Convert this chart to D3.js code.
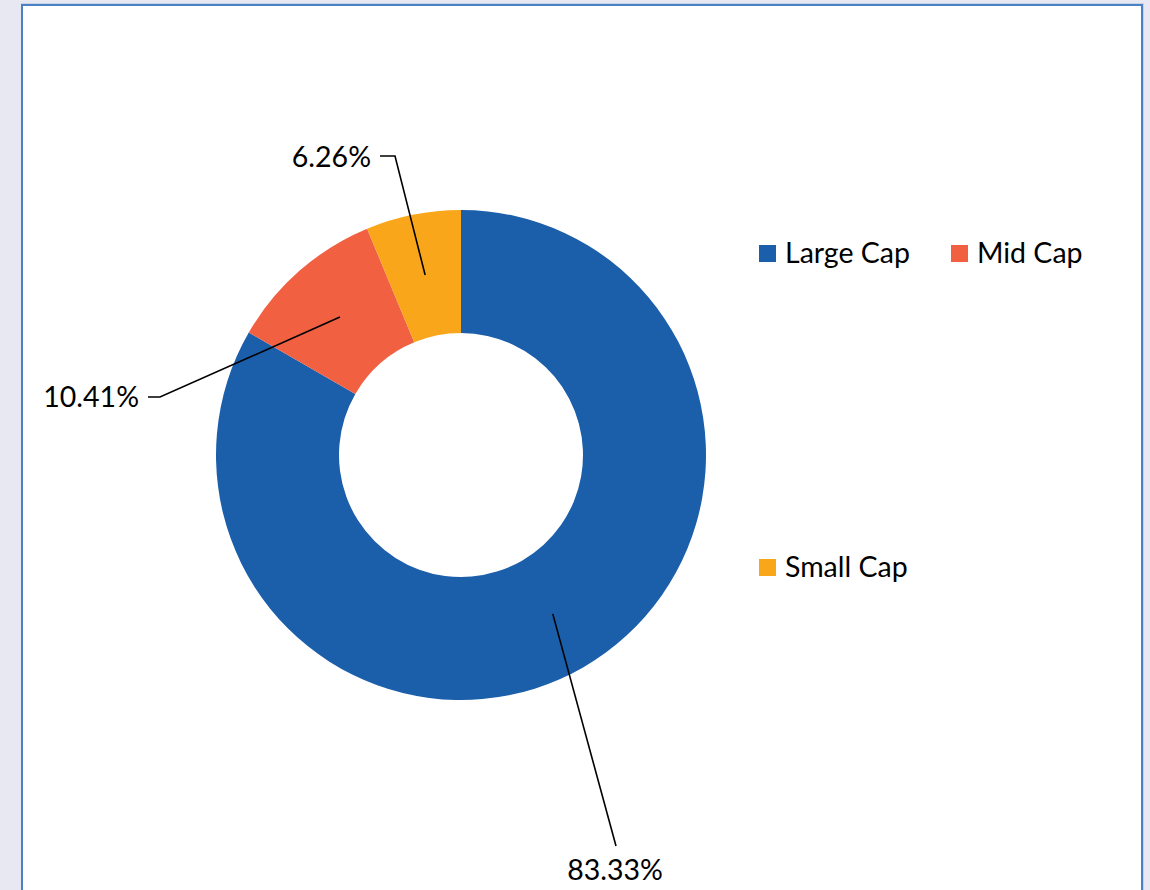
<!DOCTYPE html>
<html><head><meta charset="utf-8">
<script src="https://cdn.jsdelivr.net/npm/d3@7"></script>
<style>html,body{margin:0;padding:0;background:#e8e8f2;overflow:hidden}</style>
</head><body>
<svg id="c" width="1150" height="890"></svg>
<script>
const categories = ["Large Cap", "Mid Cap", "Small Cap"];
const values = [83.33, 10.41, 6.26];
const labels = ["83.33%", "10.41%", "6.26%"];
const colors = ["#1b5eaa", "#f26042", "#f9a61b"];

const svg = d3.select("#c");
// panel
svg.append("rect").attr("x", 21).attr("y", 3).attr("width", 1123).attr("height", 1000).attr("fill", "#c9d3e6");
svg.append("rect").attr("x", 22).attr("y", 5).attr("width", 1120).attr("height", 1000)
  .attr("fill", "#ffffff").attr("stroke", "#4a80c4").attr("stroke-width", 2);

const cx = 461, cy = 455, rOuter = 245, rInner = 122;
const FS = 28.5;
const g = svg.append("g").attr("transform", `translate(${cx},${cy})`);
const pie = d3.pie().sort(null).value(d => d);
const arcs = pie(values);
const arc = d3.arc().innerRadius(rInner).outerRadius(rOuter);
g.selectAll("path.slice").data(arcs).enter().append("path")
  .attr("class", "slice").attr("d", arc).attr("fill", (d, i) => colors[i]);

// labels with leader lines (label positions: layout offsets from center)
const labelLayout = [
  {end: [155, 391], text: [154, 425], anchor: "middle", elbow: null},
  {end: [-301, -58], text: [-322, -48], anchor: "end", elbow: [-313, -58]},
  {end: [-66, -299], text: [-90, -288], anchor: "end", elbow: [-81, -299]}
];
const mid = d3.arc().innerRadius((rInner + rOuter) / 2).outerRadius((rInner + rOuter) / 2);
arcs.forEach((d, i) => {
  const L = labelLayout[i];
  const c = mid.centroid(d);
  const pts = [c, L.end];
  if (L.elbow) pts.push(L.elbow);
  g.append("path").attr("d", d3.line()(pts)).attr("fill", "none")
    .attr("stroke", "#000").attr("stroke-width", 1.6);
  g.append("text").attr("x", L.text[0]).attr("y", L.text[1])
    .attr("text-anchor", L.anchor).attr("font-family", "Lato, 'Open Sans', sans-serif")
    .attr("font-size", FS).attr("fill", "#000").text(labels[i]);
});

// legend
const legendPos = [[759, 245], [951, 245], [759, 559]];
const lg = svg.append("g");
categories.forEach((c, i) => {
  const [x, y] = legendPos[i];
  lg.append("rect").attr("x", x).attr("y", y).attr("width", 17).attr("height", 17).attr("fill", colors[i]);
  lg.append("text").attr("x", x + 26).attr("y", y + 18).attr("font-family", "Lato, 'Open Sans', sans-serif")
    .attr("font-size", FS).attr("fill", "#000").text(c);
});
</script>
</body></html>
